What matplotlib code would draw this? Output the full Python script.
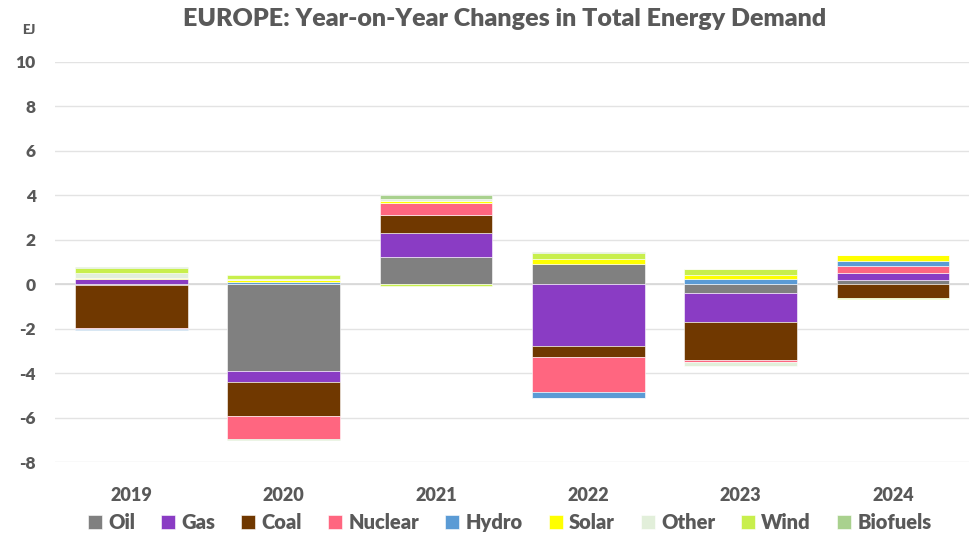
import numpy as np
import matplotlib.pyplot as plt

plt.rcParams['font.family'] = ['Lato', 'DejaVu Sans']
plt.rcParams['axes.unicode_minus'] = False

years = ["2019", "2020", "2021", "2022", "2023", "2024"]

# EJ change vs previous year
oil = [-0.05, -3.92, 1.20, 0.92, -0.40, 0.19]
gas = [0.25, -0.48, 1.08, -2.80, -1.30, 0.30]
coal = [-1.90, -1.52, 0.84, -0.47, -1.71, -0.60]
nuclear = [-0.05, -1.03, 0.54, -1.58, -0.07, 0.33]
hydro = [-0.05, 0.08, 0.00, -0.25, 0.21, 0.22]
solar = [0.03, 0.09, 0.06, 0.23, 0.22, 0.26]
other = [0.20, 0.04, 0.10, -0.02, -0.19, 0.00]
wind = [0.25, 0.19, -0.10, 0.25, 0.24, -0.05]
biofuels = [0.05, -0.04, 0.18, 0.03, 0.03, 0.00]

series = [
    ("Oil", oil, "#808080"),
    ("Gas", gas, "#8a3cc4"),
    ("Coal", coal, "#703800"),
    ("Nuclear", nuclear, "#ff6680"),
    ("Hydro", hydro, "#5b9bd5"),
    ("Solar", solar, "#ffff00"),
    ("Other", other, "#e2efda"),
    ("Wind", wind, "#c8ef4c"),
    ("Biofuels", biofuels, "#a9d18e"),
]

txt = "#595959"
w = "heavy"

fig = plt.figure(figsize=(9.69, 5.35), dpi=100)
ax = fig.add_axes([0.057, 0.1364, 0.943, 0.748])

x = np.arange(len(years))
pos = np.zeros(len(years))
neg = np.zeros(len(years))
for name, vals, col in series:
    v = np.array(vals)
    bottom = np.where(v >= 0, pos, neg)
    ax.bar(x, v, 0.74, bottom=bottom, color=col, label=name,
           edgecolor="white", linewidth=0.4, zorder=3)
    pos = pos + np.where(v >= 0, v, 0)
    neg = neg + np.where(v < 0, v, 0)

ax.set_xlim(-0.5, len(years) - 0.5)
ax.set_ylim(-8, 10)
ax.set_yticks(range(-8, 11, 2))
ax.set_xticks(x)
ax.set_xticklabels(years)
ax.grid(axis="y", color="#e3e3e3", linewidth=1, zorder=0)
ax.axhline(0, color="#d9d9d9", linewidth=1.3, zorder=2)
for s in ax.spines.values():
    s.set_visible(False)
ax.tick_params(length=0)
ax.tick_params(axis="y", pad=14, labelsize=12.5, labelcolor=txt)
ax.tick_params(axis="x", pad=18, labelsize=13, labelcolor=txt)
for lab in ax.get_xticklabels() + ax.get_yticklabels():
    lab.set_fontweight(w)

fig.text(0.521, 0.964, "EUROPE: Year-on-Year Changes in Total Energy Demand",
         ha="center", va="center", fontsize=18, fontweight=w, color=txt)
fig.text(0.030, 0.944, "EJ", ha="center", va="center", fontsize=9.5,
         fontweight=w, color=txt)

leg = fig.legend(loc="center", bbox_to_anchor=(0.526, 0.024), ncol=9,
                 frameon=False, prop={"weight": w, "size": 14.5},
                 handlelength=0.7, handleheight=0.7, handletextpad=0.3,
                 columnspacing=1.3)
for t in leg.get_texts():
    t.set_color(txt)

fig.savefig("out.png", dpi=100)
